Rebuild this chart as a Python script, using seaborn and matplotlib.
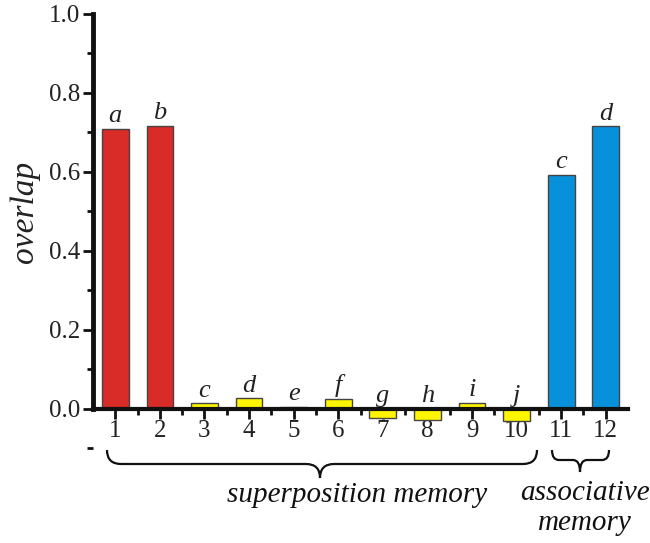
import numpy as np
import pandas as pd
import matplotlib
matplotlib.use("Agg")
import matplotlib.pyplot as plt
from matplotlib.path import Path
from matplotlib.patches import PathPatch
import seaborn as sns

# ---- data ----
bar_labels = ["1", "2", "3", "4", "5", "6", "7", "8", "9", "10", "11", "12"]
overlap = [0.709, 0.716, 0.013, 0.026, 0.004, 0.025, -0.023, -0.028, 0.015, -0.032, 0.592, 0.715]
letters = ["a", "b", "c", "d", "e", "f", "g", "h", "i", "j", "c", "d"]
groups = ["cue", "cue"] + ["super"] * 8 + ["assoc", "assoc"]
group_colors = {"cue": "#D92B27", "super": "#FFF500", "assoc": "#0791DA"}
yticks = [0.0, 0.2, 0.4, 0.6, 0.8, 1.0]
ytick_labels = ["0.0", "0.2", "0.4", "0.6", "0.8", "1.0"]

sns.set_style("ticks")
plt.rcParams["font.family"] = ["Liberation Serif", "DejaVu Serif"]

W, H = 650, 543
fig = plt.figure(figsize=(W / 100, H / 100), dpi=100)
ax = fig.add_axes([93 / W, 1 - 448 / H, (628 - 93) / W, (448 - 14) / H])

df = pd.DataFrame({"pos": bar_labels, "overlap": overlap, "group": groups})
sns.barplot(data=df, x="pos", y="overlap", hue="group", palette=group_colors,
            dodge=False, width=0.6, edgecolor="#444444", linewidth=1.0,
            saturation=1, legend=False, ax=ax, order=bar_labels)

ax.set_xlim(-0.5, 11.5)
ax.set_ylim(-0.1, 1.0)

# spines
ax.spines["top"].set_visible(False)
ax.spines["right"].set_visible(False)
ax.spines["left"].set_bounds(0, 1.0)
ax.spines["left"].set_linewidth(3.5)
ax.spines["left"].set_color("#111111")
ax.spines["bottom"].set_position(("data", 0))
ax.spines["bottom"].set_linewidth(3)
ax.spines["bottom"].set_color("#111111")

ax.set_yticks(yticks)
ax.set_yticklabels(ytick_labels)
ax.set_yticks([-0.1, 0.1, 0.3, 0.5, 0.7, 0.9], minor=True)
ax.set_xticks(range(12))
ax.set_xticklabels(bar_labels)
ax.set_xticks(np.arange(0.5, 11.5, 1.0), minor=True)
ax.tick_params(axis="both", which="major", length=7, width=2, color="#111111",
               labelsize=18, pad=2, labelcolor="#222222")
ax.tick_params(axis="both", which="minor", length=4, width=2, color="#111111")
ax.tick_params(axis="x", which="major", labelsize=18, pad=1)

ax.set_xlabel("")
ax.set_ylabel("overlap", fontsize=24, style="italic", color="#222222")
ax.yaxis.set_label_coords(-0.099, 0.544)

# letters above bars
for i, (v, lt) in enumerate(zip(overlap, letters)):
    ax.text(i, max(v, 0) + 0.004, lt, ha="center", va="bottom",
            fontsize=19, style="italic", color="#222222")

# braces (figure pixel coordinates)
def brace(x0, x1, xc, ytop, ymid, ytip, r=14):
    def P(x, y):
        return (x / W, 1 - y / H)
    verts = [P(x0, ytop), P(x0, ymid), P(x0 + r, ymid),
             P(xc - r, ymid), P(xc, ymid), P(xc, ytip),
             P(xc, ymid), P(xc + r, ymid),
             P(x1 - r, ymid), P(x1, ymid), P(x1, ytop)]
    codes = [Path.MOVETO, Path.CURVE3, Path.CURVE3,
             Path.LINETO, Path.CURVE3, Path.CURVE3,
             Path.CURVE3, Path.CURVE3,
             Path.LINETO, Path.CURVE3, Path.CURVE3]
    patch = PathPatch(Path(verts, codes), transform=fig.transFigure,
                      facecolor="none", edgecolor="#111111", lw=1.6)
    fig.patches.append(patch)

brace(107, 537, 320, 450, 464, 478, r=14)
brace(552, 609, 580, 450, 460, 472, r=7)

fig.text(357 / W, 1 - 495 / H, "superposition memory", ha="center", va="center",
         fontsize=21, style="italic", color="#111111")
fig.text(585 / W, 1 - 493 / H, "associative", ha="center", va="center",
         fontsize=21, style="italic", color="#111111")
fig.text(585 / W, 1 - 523 / H, "memory", ha="center", va="center",
         fontsize=21, style="italic", color="#111111")

fig.savefig("out.png", dpi=100)
